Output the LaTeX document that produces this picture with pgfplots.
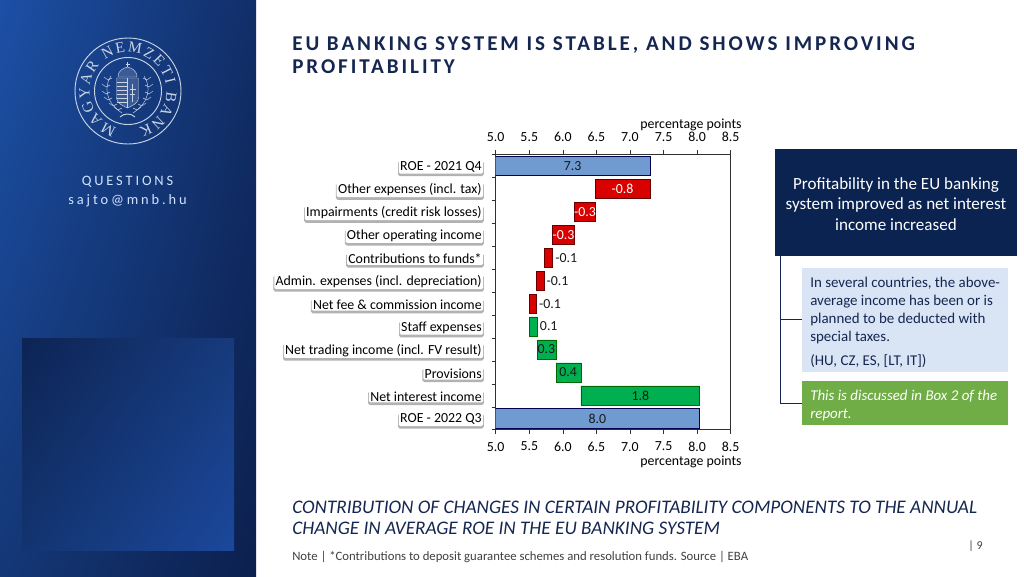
\documentclass[border=0pt]{standalone}
\usepackage{pgfplots}
\usepackage{pgfplotstable}
\usepackage{fontspec}
\pgfplotsset{compat=1.18}
\usetikzlibrary{shadows,decorations.text,shadings}
\setmainfont{Carlito}
\newfontfamily\titlefont[LetterSpace=14]{Carlito}
\newfontfamily\sidefont[LetterSpace=20]{Carlito}
\newfontfamily\logofont{Liberation Serif}
\definecolor{navy}{HTML}{152650}
\definecolor{logo}{HTML}{C9D5E6}
\definecolor{barblue}{HTML}{6F9BD1}
\definecolor{barred}{HTML}{D90000}
\definecolor{bargreen}{HTML}{00B050}
\definecolor{axisgray}{HTML}{303030}
\definecolor{pTL}{RGB}{28,80,166}
\definecolor{pTR}{RGB}{17,46,104}
\definecolor{pBL}{RGB}{20,55,118}
\definecolor{pBR}{RGB}{12,32,78}
\definecolor{qTL}{RGB}{13,36,84}
\definecolor{qTR}{RGB}{23,58,124}
\definecolor{qBL}{RGB}{19,52,112}
\definecolor{qBR}{RGB}{27,72,156}
\definecolor{boxdark}{HTML}{0B2350}
\definecolor{boxlight}{HTML}{D9E4F5}
\definecolor{boxgreen}{HTML}{70AD47}
\definecolor{sidetext}{HTML}{D0E4FF}
\pgfplotstableread{
i base delta
0 0 7.31
11 0 8.04
}\blueT
\pgfplotstableread{
i base delta
1 6.485 0.825
2 6.17 0.32
3 5.845 0.33
4 5.72 0.13
5 5.605 0.115
6 5.50 0.11
}\redT
\pgfplotstableread{
i base delta
7 5.50 0.115
8 5.615 0.285
9 5.90 0.37
10 6.27 1.77
}\greenT
\pgfplotstableread{
i pos lab
0 6.147 7.3
4 6.05 -0.1
5 5.92 -0.1
6 5.81 -0.1
7 5.79 0.1
8 5.755 0.3
9 6.08 0.4
10 7.155 1.8
11 6.515 8.0
}\blackL
\pgfplotstableread{
i pos lab
1 6.89 -0.8
2 6.33 -0.3
3 6.01 -0.3
}\whiteL
\pgfplotsset{
  frame/.style={at={(371.775pt,-322.35pt)},anchor=south west,scale only axis,width=176.25pt,height=206.6pt,
    xmin=5,xmax=8.5,ymin=-0.5,ymax=11.5,y dir=reverse},
  bars/.style={frame,xbar stacked,bar width=0.83},
}
\begin{document}
\begin{tikzpicture}[x=0.75pt,y=-0.75pt]
\path[use as bounding box] (0,0) rectangle (1024,576);
\fill[white] (0,0) rectangle (1024,576);
% side panel
\shade[upper left=pTL,upper right=pTR,lower left=pBL,lower right=pBR] (0,0) rectangle (256,576);
\shade[upper left=qTL,upper right=qTR,lower left=qBL,lower right=qBR] (22,338) rectangle (234,550);
% logo
\draw[logo,line width=0.7pt] (128,91) circle (53);
\draw[logo,line width=0.7pt] (128,91) circle (33.5);
\begin{scope}[shift={(128,91)},y=0.75pt]
\path[decorate,decoration={text along path,text align=fit to path,
  text={|\logofont\fontsize{11.5}{11.5}\selectfont\color{logo}|MAGYAR NEMZETI BANK}}]
  (253:38.5) arc[start angle=253,end angle=-74,radius=38.5];
\end{scope}
\begin{scope}[logo,line width=0.35pt]
\draw[fill=logo,fill opacity=.2] (116.5,78) -- (138.5,78) -- (138.5,97) .. controls (138.5,104) and (131,106) .. (127.5,108)
  .. controls (124,106) and (116.5,104) .. (116.5,97) -- cycle;
\draw (127.5,78) -- (127.5,108);
\foreach \yy in {82,86,90,94,98,102} \draw[line width=0.7pt] (117,\yy) -- (127,\yy);
\draw[line width=0.7pt] (132.5,84) -- (132.5,102) (129.5,89) -- (135.5,89) (130,94) -- (135,94);
\draw[fill=logo,fill opacity=.2] (118,77) .. controls (118,70) and (124,68) .. (127.5,67)
  .. controls (131,68) and (137,70) .. (137,77) -- cycle;
\draw (127.5,67) -- (127.5,62) (125.5,64) -- (129.5,64);
\draw (111,76) .. controls (104,86) and (105,102) .. (122,113);
\draw (144,76) .. controls (151,86) and (150,102) .. (133,113);
\foreach \a/\b in {108/80,106/87,106/94,108/100,113/106,118/110}
  {\draw (\a,\b) -- ++(-4,-3); \draw (\a,\b) -- ++(4,-2);}
\foreach \a/\b in {147/80,149/87,149/94,147/100,142/106,137/110}
  {\draw (\a,\b) -- ++(4,-3); \draw (\a,\b) -- ++(-4,-2);}
\draw[line width=0.7pt] (120,117) .. controls (124,113) and (131,113) .. (135,117);
\end{scope}
\node[text=sidetext,font=\sidefont\fontsize{10.8}{12}\selectfont] at (127.5,182) {QUESTIONS};
\node[text=sidetext,font=\sidefont\fontsize{10.8}{12}\selectfont] at (127.5,201) {sajto@mnb.hu};
% heading
\node[anchor=base west,inner sep=0,text=navy,font=\titlefont\bfseries\fontsize{15.8}{18}\selectfont] at (292,50) {EU BANKING SYSTEM IS STABLE, AND SHOWS IMPROVING};
\node[anchor=base west,inner sep=0,text=navy,font=\titlefont\bfseries\fontsize{15.8}{18}\selectfont] at (292,73) {PROFITABILITY};
% chart
\begin{axis}[bars,
  axis line style={axisgray,line width=0.5pt},
  xtick={5,5.5,...,8.5},
  /pgf/number format/assume math mode=true,
  xtick pos=bottom,ytick pos=left,tick align=outside,major tick length=3pt,minor tick length=3pt,
  tick style={axisgray,line width=0.5pt},
  ytick={0,...,11},major y tick style={draw=none},
  minor ytick={-0.5,0.5,...,11.5},
  yticklabels={ROE - 2021 Q4,Other expenses (incl. tax),Impairments (credit risk losses),Other operating income,Contributions to funds*,Admin. expenses (incl. depreciation),Net fee \& commission income,Staff expenses,Net trading income (incl. FV result),Provisions,Net interest income,ROE - 2022 Q3},
  yticklabel style={font=\fontsize{10.4}{12}\selectfont,anchor=east,xshift=-6.3pt,yshift=-0.7pt,inner sep=1pt,rounded corners=1pt,fill=white,
    general shadow={fill=gray!60,draw=gray!60,line width=1.2pt,shadow yshift=-1.4pt}},
  xticklabel style={/pgf/number format/.cd,fixed,fixed zerofill,precision=1,/tikz/.cd,font=\fontsize{10.4}{12}\selectfont,inner sep=1pt,yshift=-5pt},
]
\addplot[draw=none,fill=none,forget plot] table[x=base,y=i]{\blueT};
\addplot[draw=black!70!blue,fill=barblue,line width=0.5pt,forget plot] table[x=delta,y=i]{\blueT};
\end{axis}
\begin{axis}[bars,hide axis]
\addplot[draw=none,fill=none,forget plot] table[x=base,y=i]{\redT};
\addplot[draw=black!60!red,fill=barred,line width=0.5pt,forget plot] table[x=delta,y=i]{\redT};
\end{axis}
\begin{axis}[bars,hide axis]
\addplot[draw=none,fill=none,forget plot] table[x=base,y=i]{\greenT};
\addplot[draw=black!60!green,fill=bargreen,line width=0.5pt,forget plot] table[x=delta,y=i]{\greenT};
\end{axis}
\begin{axis}[frame,hide axis,clip=false]
\addplot[only marks,mark=none,forget plot,point meta=explicit symbolic,nodes near coords,
  every node near coord/.append style={anchor=center,text=black!90,font=\fontsize{10.4}{12}\selectfont,inner sep=0pt}]
  table[x=pos,y=i,meta=lab]{\blackL};
\addplot[only marks,mark=none,forget plot,point meta=explicit symbolic,nodes near coords,
  every node near coord/.append style={anchor=center,text=white,font=\fontsize{10.4}{12}\selectfont,inner sep=0pt}]
  table[x=pos,y=i,meta=lab]{\whiteL};
\end{axis}
\begin{axis}[frame,ymin=0,ymax=1,y dir=normal,axis x line*=top,axis y line=none,
  xtick={5,5.5,...,8.5},
  /pgf/number format/assume math mode=true,
  tick align=outside,major tick length=3pt,
  axis line style={axisgray,line width=0.5pt,-},tick style={axisgray,line width=0.5pt},
  xticklabel style={/pgf/number format/.cd,fixed,fixed zerofill,precision=1,/tikz/.cd,font=\fontsize{10.4}{12}\selectfont,inner sep=1pt,yshift=5pt},
]
\end{axis}
\node[font=\fontsize{10.4}{12}\selectfont,inner sep=0] at (691,125) {percentage points};
\node[font=\fontsize{10.4}{12}\selectfont,inner sep=0] at (691,462) {percentage points};
% right boxes
\draw[draw=navy,line width=0.75pt] (780,256) -- (780,403) -- (802,403) (780,319) -- (802,319);
\fill[boxdark] (775,149) rectangle (1017,256);
\node[text=white,align=center,inner sep=0,font=\fontsize{12.8}{15.4}\selectfont] at (896,204) {Profitability in the EU banking\\system improved as net interest\\income increased};
\fill[boxlight] (802,268) rectangle (1008,372);
\node[anchor=north west,inner sep=0,text=navy,align=left,font=\fontsize{11.2}{13.5}\selectfont] at (810,276.5) {In several countries, the above-\\average income has been or is\\planned to be deducted with\\special taxes.\\[5pt](HU, CZ, ES, [LT, IT])};
\fill[boxgreen] (802,381) rectangle (1008,425);
\node[anchor=north west,inner sep=0,text=white,align=left,font=\fontsize{11.2}{13.5}\selectfont\itshape] at (810,389.5) {This is discussed in Box 2 of the\\report.};
% footer
\node[anchor=base west,inner sep=0,text=navy,font=\fontsize{14.4}{16}\selectfont\itshape] at (292,513) {CONTRIBUTION OF CHANGES IN CERTAIN PROFITABILITY COMPONENTS TO THE ANNUAL};
\node[anchor=base west,inner sep=0,text=navy,font=\fontsize{14.4}{16}\selectfont\itshape] at (292,534) {CHANGE IN AVERAGE ROE IN THE EU BANKING SYSTEM};
\node[anchor=base west,inner sep=0,text=black!75,font=\fontsize{9.55}{12}\selectfont] at (292,560) {Note | *Contributions to deposit guarantee schemes and resolution funds. Source | EBA};
\node[anchor=base west,inner sep=0,text=black!75,font=\fontsize{9}{12}\selectfont] at (968,549) {| 9};
\end{tikzpicture}
\end{document}
